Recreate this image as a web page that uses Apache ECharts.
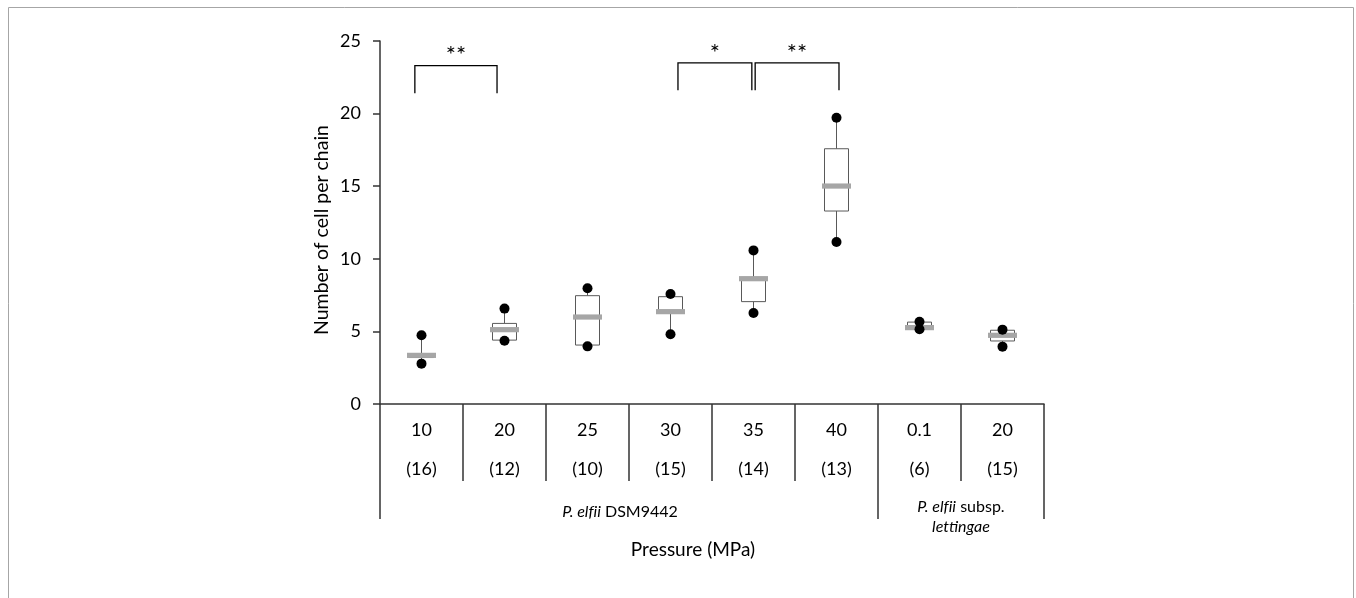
<!DOCTYPE html>
<html>
<head>
<meta charset="utf-8">
<script src="https://cdn.jsdelivr.net/npm/echarts@6/dist/echarts.min.js"></script>
<style>
  html, body { margin: 0; padding: 0; background: #fff; }
  #chart { width: 1356px; height: 598px; }
</style>
</head>
<body>
<div id="chart"></div>
<script>
// pressure categories and sample sizes
var categories = ['10', '20', '25', '30', '35', '40', '0.1', '20'];
var counts = ['(16)', '(12)', '(10)', '(15)', '(14)', '(13)', '(6)', '(15)'];

// box plot values
var minVals = [2.78, 4.36, 3.97, 4.80, 6.27, 11.16, 5.15, 3.95];
var q1Vals = [3.20, 4.40, 4.06, 6.25, 7.05, 13.29, 5.15, 4.34];
var medianVals = [3.35, 5.12, 5.99, 6.36, 8.63, 15.01, 5.26, 4.73];
var q3Vals = [3.45, 5.55, 7.46, 7.39, 8.72, 17.58, 5.64, 5.08];
var maxVals = [4.73, 6.57, 7.97, 7.58, 10.58, 19.72, 5.67, 5.12];

// strain groups (axis positions in category units)
var groupTicks = [0, 6, 8];
var groupCenters = [3, 7];

// significance brackets: start, end (category units), top, leg bottom, label
var bracketStart = [-0.08, 3.09, 4.02];
var bracketEnd = [0.91, 3.98, 5.03];
var bracketTop = [23.3, 23.5, 23.5];
var bracketLeg = [21.4, 21.6, 21.6];
var bracketLabel = ['**', '*', '**'];

var FONT = 'Lato, "Open Sans", sans-serif';
var AXIS_COLOR = '#333';
var NL = '\u200C'; // stops the fi / tt ligatures

var chartDom = document.getElementById('chart');
var myChart = echarts.init(chartDom);
var option;

var boxData = categories.map(function (c, i) {
    return [i, minVals[i], q1Vals[i], medianVals[i], q3Vals[i], maxVals[i]];
});
var dotData = [];
categories.forEach(function (c, i) {
    dotData.push([i, minVals[i]]);
    dotData.push([i, maxVals[i]]);
});
var bracketData = bracketLabel.map(function (l, i) {
    return [bracketStart[i], bracketEnd[i], bracketTop[i], bracketLeg[i], l];
});

option = {
    backgroundColor: '#fff',
    textStyle: { fontFamily: FONT },
    graphic: [
        {
            type: 'rect',
            shape: { x: 8.5, y: 7.5, width: 1345, height: 640 },
            style: { fill: 'none', stroke: '#a6a6a6', lineWidth: 1 },
            silent: true
        }
    ],
    grid: { left: 380, right: 312, top: 41, bottom: 194 },
    xAxis: [
        {
            type: 'category',
            data: categories,
            boundaryGap: true,
            axisLine: { lineStyle: { color: AXIS_COLOR, width: 1.5 } },
            axisTick: { show: true, length: 77, lineStyle: { color: AXIS_COLOR, width: 1.5 } },
            axisLabel: {
                interval: 0,
                margin: 7,
                fontSize: 18,
                lineHeight: 39,
                color: '#000',
                fontFamily: FONT,
                formatter: function (v, i) {
                    return v + '\n' + counts[i];
                }
            },
            splitLine: { show: false }
        },
        {
            type: 'value',
            min: 0,
            max: 8,
            position: 'bottom',
            axisLine: { show: false },
            splitLine: { show: false },
            axisTick: {
                show: true,
                length: 115,
                customValues: groupTicks,
                lineStyle: { color: AXIS_COLOR, width: 1.5 }
            },
            axisLabel: {
                customValues: groupCenters,
                margin: 93,
                color: '#000',
                fontSize: 16,
                fontFamily: FONT,
                formatter: function (v) {
                    if (v === 3) return '{a1|P. elf' + NL + 'ii}{b1| DSM9442}';
                    return '{a|P. elf' + NL + 'ii}{b| subsp.}\n{a|let' + NL + 'tingae}';
                },
                rich: {
                    a1: { fontStyle: 'italic', fontSize: 16, lineHeight: 30, fontFamily: FONT },
                    b1: { fontSize: 16, lineHeight: 30, fontFamily: FONT, padding: [0, 18, 0, 0] },
                    a: { fontStyle: 'italic', fontSize: 16, lineHeight: 20, fontFamily: FONT },
                    b: { fontSize: 16, lineHeight: 20, fontFamily: FONT }
                }
            },
            name: 'Pressure (MPa)',
            nameLocation: 'middle',
            nameGap: 135,
            nameTextStyle: { fontSize: 19, color: '#000', fontFamily: FONT, padding: [0, 38, 0, 0] }
        }
    ],
    yAxis: {
        type: 'value',
        min: 0,
        max: 25,
        interval: 5,
        name: 'Number of cell per chain',
        nameLocation: 'middle',
        nameGap: 48,
        nameTextStyle: { fontSize: 19.5, color: '#000', fontFamily: FONT, padding: [0, 15, 0, 0] },
        axisLine: { show: true, lineStyle: { color: AXIS_COLOR, width: 1.5 } },
        axisTick: { show: true, length: 7, lineStyle: { color: AXIS_COLOR, width: 1.5 } },
        axisLabel: { margin: 19, fontSize: 18, color: '#000', fontFamily: FONT },
        splitLine: { show: false }
    },
    series: [
        {
            name: 'box',
            type: 'custom',
            xAxisIndex: 0,
            data: boxData,
            encode: { x: 0, y: [1, 2, 3, 4, 5] },
            z: 2,
            renderItem: function (params, api) {
                var idx = api.value(0);
                var pMin = api.coord([idx, api.value(1)]);
                var pQ1 = api.coord([idx, api.value(2)]);
                var pMed = api.coord([idx, api.value(3)]);
                var pQ3 = api.coord([idx, api.value(4)]);
                var pMax = api.coord([idx, api.value(5)]);
                var x = pMed[0];
                var boxW = 24;
                var medW = 29;
                var lineStyle = { stroke: '#595959', lineWidth: 1, fill: 'none' };
                return {
                    type: 'group',
                    children: [
                        {
                            type: 'line',
                            shape: { x1: x, y1: pQ3[1], x2: x, y2: pMax[1] },
                            style: lineStyle
                        },
                        {
                            type: 'line',
                            shape: { x1: x, y1: pQ1[1], x2: x, y2: pMin[1] },
                            style: lineStyle
                        },
                        {
                            type: 'rect',
                            shape: { x: x - boxW / 2, y: pQ3[1], width: boxW, height: pQ1[1] - pQ3[1] },
                            style: { fill: '#fff', stroke: '#595959', lineWidth: 1 }
                        },
                        {
                            type: 'rect',
                            shape: { x: x - medW / 2, y: pMed[1] - 2.6, width: medW, height: 5.2 },
                            style: { fill: '#a6a6a6' }
                        }
                    ]
                };
            }
        },
        {
            name: 'range',
            type: 'scatter',
            xAxisIndex: 0,
            data: dotData,
            symbol: 'circle',
            symbolSize: 10,
            itemStyle: { color: '#000', opacity: 1 },
            z: 3
        },
        {
            name: 'significance',
            type: 'custom',
            xAxisIndex: 0,
            data: bracketData,
            encode: { y: [2, 3] },
            z: 4,
            renderItem: function (params, api) {
                var p0 = api.coord([0, api.value(2)]);
                var pLeg = api.coord([0, api.value(3)]);
                var band = api.size([1, 0])[0];
                var x1 = p0[0] + api.value(0) * band;
                var x2 = p0[0] + api.value(1) * band;
                var yTop = p0[1];
                var yLeg = pLeg[1];
                return {
                    type: 'group',
                    children: [
                        {
                            type: 'polyline',
                            shape: { points: [[x1, yLeg], [x1, yTop], [x2, yTop], [x2, yLeg]] },
                            style: { stroke: '#000', lineWidth: 1.3, fill: 'none' }
                        },
                        {
                            type: 'text',
                            style: {
                                x: (x1 + x2) / 2,
                                y: yTop + 2,
                                text: bracketLabel[params.dataIndex],
                                align: 'center',
                                verticalAlign: 'bottom',
                                fontSize: 24,
                                fontFamily: FONT,
                                fill: '#000'
                            }
                        }
                    ]
                };
            }
        }
    ]
};
option && myChart.setOption(option);
</script>
</body>
</html>
